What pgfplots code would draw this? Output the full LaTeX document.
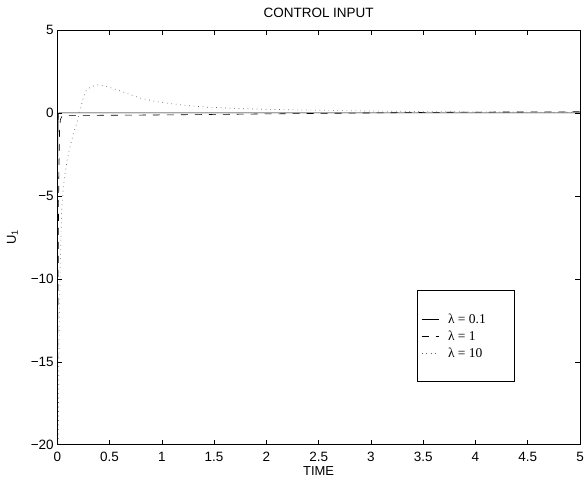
\documentclass[border=0pt]{standalone}
\usepackage{fontspec}
\setmainfont{Liberation Sans}
\newfontfamily\serif{Liberation Serif}
\usepackage{pgfplots}
\pgfplotsset{compat=1.18}
\begin{document}
\begin{tikzpicture}
\begin{axis}[%
name=ax,
width=523pt,
height=415pt,
scale only axis,
xmin=0, xmax=5,
ymin=-20, ymax=5,
xtick={0,0.5,...,5},
ytick={-20,-15,...,5},
yticklabels={−20,−15,−10,−5,0,5},
tick align=inside,
major tick length=5pt,
axis line style={line width=0.8pt},
every tick/.style={black, line width=0.6pt},
/pgf/number format/assume math mode=true,
tick label style={font=\fontsize{13.5}{15}\selectfont},
xticklabel style={yshift=-4pt},
xlabel={TIME},
ylabel={U\textsubscript{1}},
title={CONTROL INPUT},
label style={font=\fontsize{13}{15}\selectfont},
title style={font=\fontsize{13.5}{15}\selectfont, yshift=3pt},
xlabel style={yshift=2pt},
ylabel style={yshift=6pt},
legend cell align=left,
legend style={at={(rel axis cs:0.688,0.372)}, anchor=north west,
  draw=black, line width=0.8pt, inner xsep=4pt, inner ysep=21pt, row sep=2pt,
  font=\serif\fontsize{13.5}{15}\selectfont},
]
\addplot[black, line width=0.5pt] coordinates {
(0,-20) (0.004,-3) (0.008,-0.5) (0.015,0) (5,0)
};
\addlegendentry{\makebox[67pt][l]{\hspace{7pt}λ = 0.1}}
\addplot[black, line width=0.6pt, dash pattern=on 7pt off 7pt] coordinates {
(0,-20) (0.008,-10) (0.015,-3.5) (0.022,-1) (0.03,-0.4) (0.045,-0.2) (0.1,-0.15)
(0.5,-0.14) (1,-0.12) (1.5,-0.09) (2,-0.06) (2.5,-0.03) (3,0) (3.5,0.03)
(4,0.05) (4.5,0.06) (5,0.07)
};
\addlegendentry{\makebox[67pt][l]{\hspace{7pt}λ = 1}}
\addplot[black!60, line width=0.7pt, dash pattern=on 0.7pt off 3.8pt] coordinates {
(0,-21) (0.01,-19.5) (0.016,-14.3) (0.023,-11.3) (0.032,-8.3) (0.042,-5.9)
(0.057,-4.5) (0.075,-3.6) (0.09,-3.0) (0.12,-2.1) (0.153,-1.25) (0.19,-0.55)
(0.217,0.1) (0.25,0.95) (0.28,1.39) (0.33,1.6) (0.39,1.69) (0.47,1.6)
(0.57,1.4) (0.66,1.19) (0.79,0.9) (0.95,0.68) (1.11,0.54) (1.27,0.43)
(1.43,0.35) (1.71,0.27) (2,0.22) (2.32,0.18) (2.96,0.12) (3.5,0.08)
(4,0.06) (4.5,0.05) (5,0.04)
};
\addlegendentry{\makebox[67pt][l]{\hspace{7pt}λ = 10}}
\end{axis}
\path ([shift={(-57.3pt,-34pt)}]ax.south west) rectangle ([shift={(8pt,30pt)}]ax.north east);
\end{tikzpicture}
\end{document}
